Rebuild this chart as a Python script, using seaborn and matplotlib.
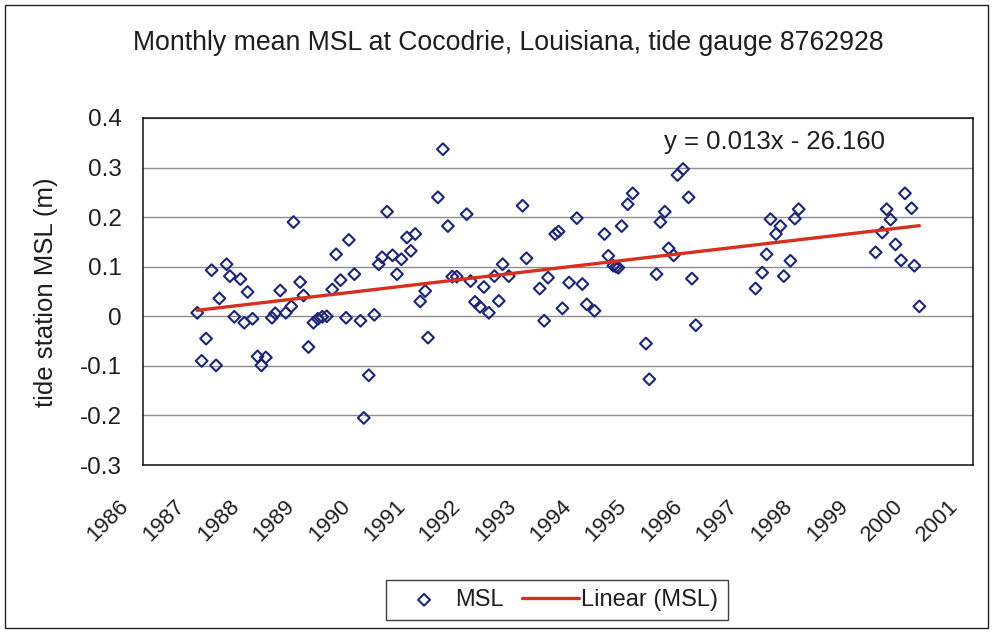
import numpy as np
import pandas as pd
import matplotlib
matplotlib.use("Agg")
import matplotlib.pyplot as plt
import matplotlib.transforms as mtransforms
from matplotlib.patches import Rectangle
import seaborn as sns

# ---- data ----
years = [1986.98, 1987.06, 1987.14, 1987.24, 1987.32, 1987.38, 1987.51, 1987.57, 1987.65, 1987.76,
         1987.83, 1987.89, 1987.98, 1988.07, 1988.14, 1988.22, 1988.33, 1988.39, 1988.48, 1988.58,
         1988.68, 1988.72, 1988.84, 1988.90, 1988.99, 1989.08, 1989.16, 1989.24, 1989.32, 1989.42,
         1989.49, 1989.57, 1989.67, 1989.72, 1989.82, 1989.93, 1989.99, 1990.08, 1990.18, 1990.26,
         1990.32, 1990.41, 1990.51, 1990.59, 1990.67, 1990.77, 1990.84, 1990.92, 1991.01, 1991.10,
         1991.15, 1991.33, 1991.42, 1991.51, 1991.59, 1991.67, 1991.85, 1991.92, 1992.00, 1992.09,
         1992.16, 1992.25, 1992.35, 1992.43, 1992.50, 1992.61, 1992.86, 1992.93, 1993.17, 1993.25,
         1993.32, 1993.45, 1993.51, 1993.58, 1993.70, 1993.84, 1993.94, 1994.02, 1994.16, 1994.34,
         1994.41, 1994.50, 1994.55, 1994.59, 1994.65, 1994.76, 1994.85, 1995.09, 1995.15, 1995.28,
         1995.35, 1995.43, 1995.50, 1995.59, 1995.66, 1995.76, 1995.86, 1995.92, 1995.99, 1997.07,
         1997.19, 1997.27, 1997.34, 1997.44, 1997.52, 1997.58, 1997.70, 1997.78, 1997.85, 1999.24,
         1999.36, 1999.44, 1999.51, 1999.60, 1999.70, 1999.77, 1999.89, 1999.94, 2000.03]
msl = [0.007, -0.090, -0.045, 0.093, -0.099, 0.036, 0.105, 0.081, -0.001, 0.075,
       -0.013, 0.049, -0.005, -0.081, -0.099, -0.083, -0.003, 0.006, 0.052, 0.007,
       0.020, 0.190, 0.069, 0.042, -0.062, -0.013, -0.005, -0.001, 0.000, 0.054,
       0.125, 0.073, -0.003, 0.154, 0.085, -0.009, -0.205, -0.119, 0.003, 0.105,
       0.119, 0.211, 0.123, 0.085, 0.115, 0.159, 0.132, 0.166, 0.030, 0.051,
       -0.043, 0.240, 0.337, 0.182, 0.080, 0.080, 0.206, 0.071, 0.029, 0.019,
       0.059, 0.007, 0.081, 0.031, 0.105, 0.081, 0.223, 0.117, 0.056, -0.009,
       0.078, 0.166, 0.171, 0.016, 0.068, 0.198, 0.065, 0.024, 0.011, 0.166,
       0.122, 0.102, 0.100, 0.098, 0.182, 0.226, 0.248, -0.055, -0.127, 0.085,
       0.190, 0.211, 0.137, 0.123, 0.285, 0.297, 0.240, 0.076, -0.018, 0.056,
       0.088, 0.125, 0.196, 0.166, 0.182, 0.081, 0.112, 0.197, 0.216, 0.129,
       0.169, 0.216, 0.195, 0.145, 0.113, 0.248, 0.218, 0.102, 0.020]

x_ticks = list(range(1986, 2002))
x_tick_labels = [str(y) for y in x_ticks]
y_ticks = [0.4, 0.3, 0.2, 0.1, 0.0, -0.1, -0.2, -0.3]
y_tick_labels = ["0.4", "0.3", "0.2", "0.1", "0", "-0.1", "-0.2", "-0.3"]

title = "Monthly mean MSL at Cocodrie, Louisiana, tide gauge 8762928"
y_label = "tide station MSL (m)"
equation = "y = 0.013x - 26.160"
legend_labels = ["MSL", "Linear (MSL)"]

df = pd.DataFrame({"year": years, "msl": msl})

# ---- style ----
sns.set_style("white")
plt.rcParams["font.family"] = ["Liberation Sans", "DejaVu Sans"]
plt.rcParams["axes.unicode_minus"] = False

W, H = 993, 633
fig = plt.figure(figsize=(W / 100, H / 100), dpi=100)
fig.patch.set_facecolor("white")
L, R, T, B = 143, 973, 118, 465
ax = fig.add_axes([L / W, 1 - B / H, (R - L) / W, (B - T) / H])

marker_color = "#1c2675"
line_color = "#d8301e"
text_color = "#1e1e1e"

sns.scatterplot(data=df, x="year", y="msl", ax=ax, marker="D", s=36,
                facecolors="none", edgecolor=marker_color, linewidth=1.5,
                label=legend_labels[0], zorder=3)
sns.regplot(data=df, x="year", y="msl", ax=ax, scatter=False, ci=None,
            truncate=True, color=line_color, line_kws={"linewidth": 2.4, "zorder": 4},
            label=legend_labels[1])

ax.set_xlim(1986, 2001)
ax.set_ylim(-0.3, 0.4)
ax.set_xticks(x_ticks)
ax.set_xticklabels(x_tick_labels)
ax.set_yticks(y_ticks)
ax.set_yticklabels(y_tick_labels)
ax.set_yticks(np.arange(-0.25, 0.4, 0.1), minor=True)

ax.grid(axis="y", which="major", color="#8e8e8e", linewidth=1.0, zorder=0)
ax.set_axisbelow(True)
for sp in ax.spines.values():
    sp.set_visible(True)
    sp.set_color("#111111")
    sp.set_linewidth(1.1)

ax.tick_params(axis="y", which="major", direction="inout", length=11, width=1,
               pad=10.0, labelsize=17.5, labelcolor=text_color, color="#111111")
ax.tick_params(axis="y", which="minor", direction="in", length=4, width=1, color="#111111")
ax.tick_params(axis="x", which="major", direction="out", length=4, width=1,
               pad=18, labelsize=16, labelcolor=text_color, color="#111111")
offset = mtransforms.ScaledTranslation(-10 / 100, 0, fig.dpi_scale_trans)
for lab in ax.get_xticklabels():
    lab.set_rotation(45)
    lab.set_ha("right")
    lab.set_va("top")
    lab.set_transform(lab.get_transform() + offset)

ax.set_xlabel("")
ax.set_ylabel(y_label, fontsize=18.5, color=text_color)
ax.yaxis.label.set_va("center")
ax.yaxis.set_label_coords((46 - L) / (R - L), (B - 292) / (B - T))

fig.text(508 / W, 1 - 43 / H, title, ha="center", va="center", fontsize=19.2, color=text_color)
fig.text(775 / W, 1 - 142 / H, equation, ha="center", va="center", fontsize=18.5, color=text_color)

leg = ax.legend(loc="center", bbox_to_anchor=(557 / W, 1 - 600 / H),
                bbox_transform=fig.transFigure, ncol=2, frameon=True, fancybox=False,
                fontsize=17, handlelength=2.4, handletextpad=0.1, columnspacing=0.8,
                borderpad=0.4, edgecolor="#111111")
leg.get_frame().set_linewidth(1.0)
for t in leg.get_texts():
    t.set_color(text_color)

fig.patches.append(Rectangle((5 / W, 5 / H), (W - 10) / W, (H - 10) / H, transform=fig.transFigure,
                             fill=False, edgecolor="#222222", linewidth=1.0))

fig.savefig("out.png", dpi=100)
